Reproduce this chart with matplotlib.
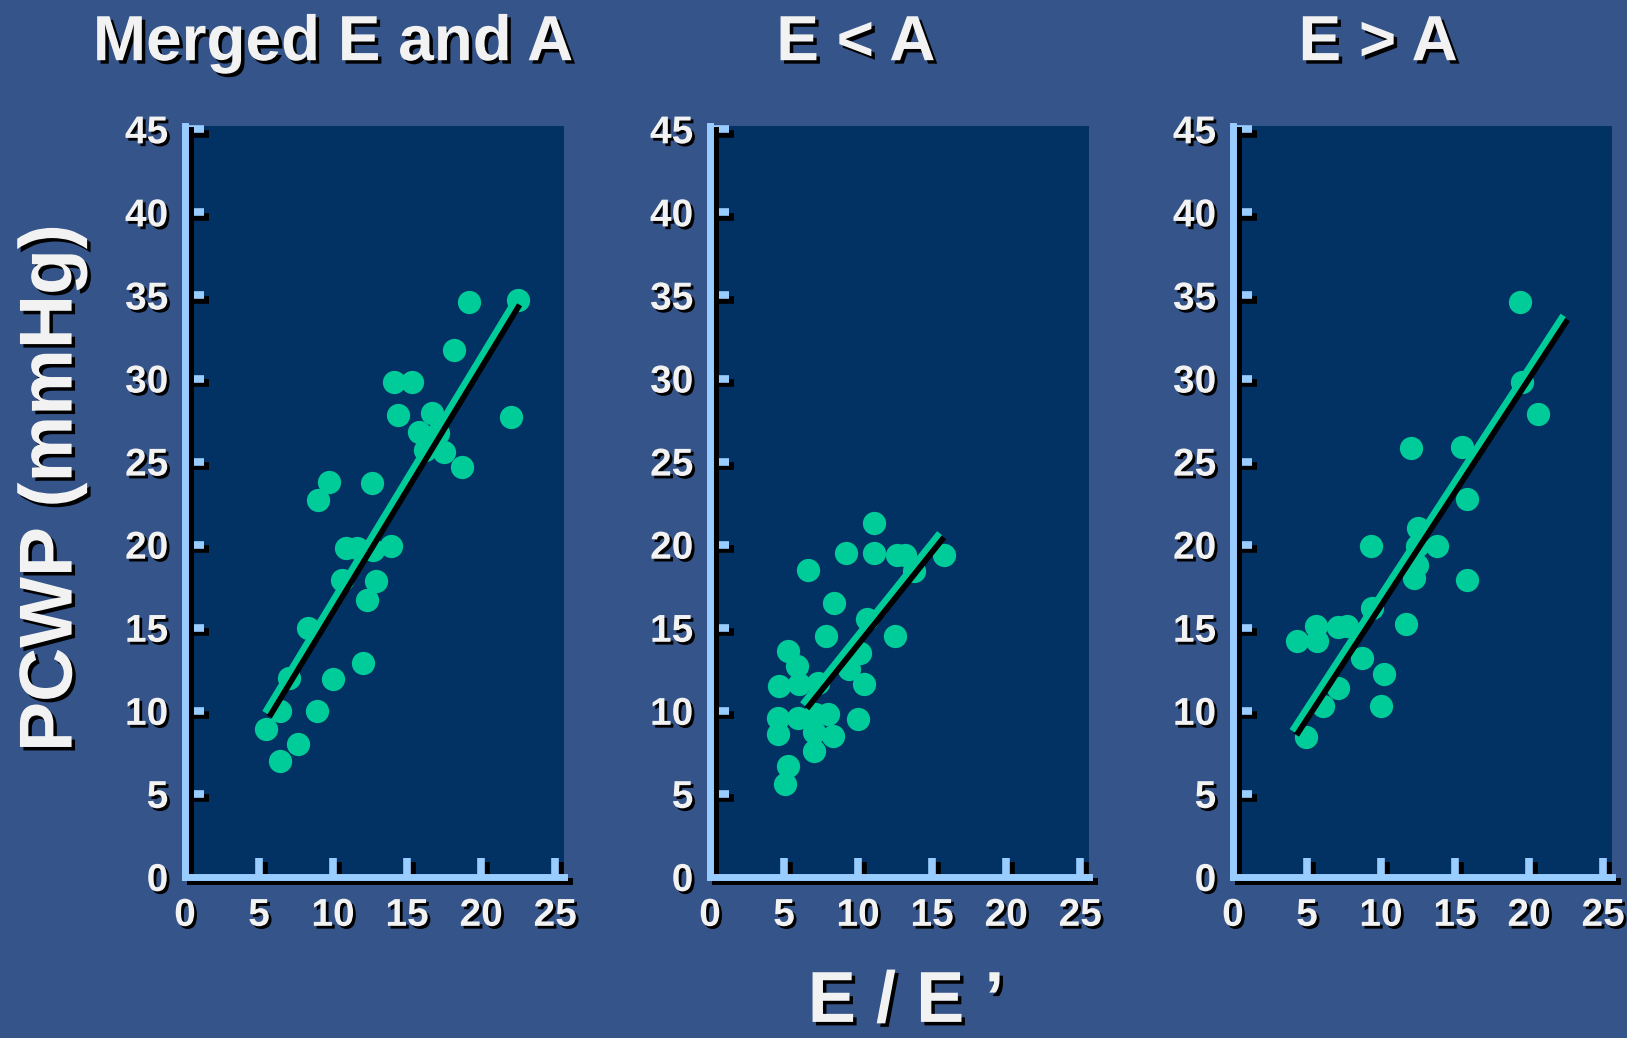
import matplotlib
matplotlib.use("Agg")
from matplotlib import pyplot as plt
import matplotlib.patheffects as pe

# E/E' vs PCWP
merged_x = [19.2, 22.5, 18.2, 14.1, 15.3, 14.4, 16.7, 22.0, 15.8, 17.1, 16.2, 17.5,
            18.7, 9.7, 9.0, 12.6, 10.9, 11.6, 12.7, 13.9, 10.6, 12.9, 12.3, 8.3,
            7.0, 10.0, 12.0, 6.4, 8.9, 5.5, 7.6, 6.4]
merged_y = [34.6, 34.7, 31.7, 29.8, 29.8, 27.8, 27.9, 27.7, 26.8, 26.7, 25.7, 25.6,
            24.7, 23.8, 22.7, 23.7, 19.8, 19.8, 19.7, 19.9, 17.9, 17.8, 16.7, 15.0,
            12.0, 11.9, 12.9, 10.0, 10.0, 8.9, 8.0, 7.0]
merged_fit_x = [5.4, 22.3]
merged_fit_y = [9.9, 34.7]

e_lt_a_x = [11.1, 9.2, 11.05, 12.6, 13.2, 15.8, 13.8, 6.65, 8.4, 10.6, 7.8, 12.5,
            5.25, 5.9, 10.1, 9.4, 4.66, 6.0, 7.3, 10.4, 4.6, 5.95, 7.1, 8.0, 10.0,
            4.6, 7.0, 8.3, 7.0, 5.25, 5.05]
e_lt_a_y = [21.3, 19.5, 19.5, 19.4, 19.4, 19.4, 18.4, 18.5, 16.5, 15.5, 14.5, 14.5,
            13.6, 12.7, 13.5, 12.5, 11.5, 11.6, 11.7, 11.6, 9.6, 9.6, 9.8, 9.8, 9.5,
            8.6, 8.7, 8.5, 7.6, 6.7, 5.6]
e_lt_a_fit_x = [6.25, 15.5]
e_lt_a_fit_y = [10.4, 20.7]

e_gt_a_x = [19.4, 19.55, 20.6, 12.0, 15.5, 15.8, 12.5, 9.3, 12.4, 13.8, 12.4, 12.2,
            15.8, 9.4, 11.7, 5.6, 7.1, 7.7, 4.3, 5.7, 8.7, 10.2, 7.1, 6.05, 10.0, 4.9]
e_gt_a_y = [34.6, 29.8, 27.85, 25.8, 25.9, 22.75, 21.0, 19.9, 19.9, 19.9, 18.8, 18.0,
            17.9, 16.2, 15.2, 15.1, 15.06, 15.1, 14.2, 14.2, 13.2, 12.2, 11.4, 10.3,
            10.3, 8.4]
e_gt_a_fit_x = [4.0, 22.3]
e_gt_a_fit_y = [8.8, 33.8]

titles = ["Merged E and A", "E < A", "E > A"]
x_ticks = [0, 5, 10, 15, 20, 25]
y_ticks = [0, 5, 10, 15, 20, 25, 30, 35, 40, 45]

bg = "#34548a"
navy = "#023264"
dot = "#00cc99"
axis_blue = "#99ccff"
txt = "#f2f2f2"

plt.rcParams["font.family"] = ["Liberation Sans", "DejaVu Sans"]
plt.rcParams["font.weight"] = "bold"

text_shadow = [pe.SimplePatchShadow(offset=(2, -2), shadow_rgbFace="black", alpha=1), pe.Normal()]
big_shadow = [pe.SimplePatchShadow(offset=(2.5, -2.5), shadow_rgbFace="black", alpha=1), pe.Normal()]
line_shadow = [pe.SimpleLineShadow(offset=(3, -3), shadow_color="black", alpha=1), pe.Normal()]
axis_shadow = [pe.SimpleLineShadow(offset=(3.5, -3), shadow_color="black", alpha=1), pe.Normal()]

fig = plt.figure(figsize=(16.27, 10.38), dpi=100, facecolor=bg)

panels = [
    (merged_x, merged_y, merged_fit_x, merged_fit_y),
    (e_lt_a_x, e_lt_a_y, e_lt_a_fit_x, e_lt_a_fit_y),
    (e_gt_a_x, e_gt_a_y, e_gt_a_fit_x, e_gt_a_fit_y),
]
lefts = [0.1137, 0.4364, 0.7578]
title_x = [0.2047, 0.526, 0.847]

for left, tx, title, (xs, ys, fx, fy) in zip(lefts, title_x, titles, panels):
    ax = fig.add_axes([left, 0.1551, 0.2330, 0.7235])
    ax.set_facecolor(navy)
    ax.scatter(xs, ys, s=280, color=dot, linewidths=0, zorder=3)
    ax.plot(fx, fy, color=dot, lw=4.5, solid_capstyle="butt",
            path_effects=line_shadow, zorder=4)
    ax.set_xlim(0, 25.6)
    ax.set_ylim(0, 45.2)

    for side in ["top", "right"]:
        ax.spines[side].set_visible(False)
    for side in ["left", "bottom"]:
        sp = ax.spines[side]
        sp.set_color(axis_blue)
        sp.set_linewidth(5)
        sp.set_capstyle("projecting")
        sp.set_path_effects(axis_shadow)

    ax.set_xticks(x_ticks)
    ax.set_xticklabels([str(v) for v in x_ticks])
    ax.set_yticks(y_ticks)
    ax.set_yticklabels([str(v) for v in y_ticks])
    ax.tick_params(axis="both", direction="in", length=14, width=5.5, color=axis_blue,
                   labelsize=28, labelcolor=txt)
    ax.tick_params(axis="x", pad=15)
    ax.tick_params(axis="y", pad=12)
    for lab in ax.get_xticklabels() + ax.get_yticklabels():
        lab.set_path_effects(text_shadow)
    for t in ax.xaxis.get_major_ticks() + ax.yaxis.get_major_ticks():
        t.tick1line.set_path_effects(axis_shadow)
    # no stub at the corner
    ax.xaxis.get_major_ticks()[0].tick1line.set_visible(False)
    ax.yaxis.get_major_ticks()[0].tick1line.set_visible(False)

    fig.text(tx, 0.942, title, ha="center", va="baseline", fontsize=46,
             color=txt, path_effects=big_shadow)

fig.text(0.032, 0.530, "PCWP (mmHg)", rotation=90, ha="center", va="center",
         fontsize=54, color=txt, path_effects=big_shadow)
fig.text(0.557, 0.0155, "E / E \u2019", ha="center", va="baseline",
         fontsize=52, color=txt, path_effects=big_shadow)

plt.savefig("out.png", dpi=100, facecolor=bg)
